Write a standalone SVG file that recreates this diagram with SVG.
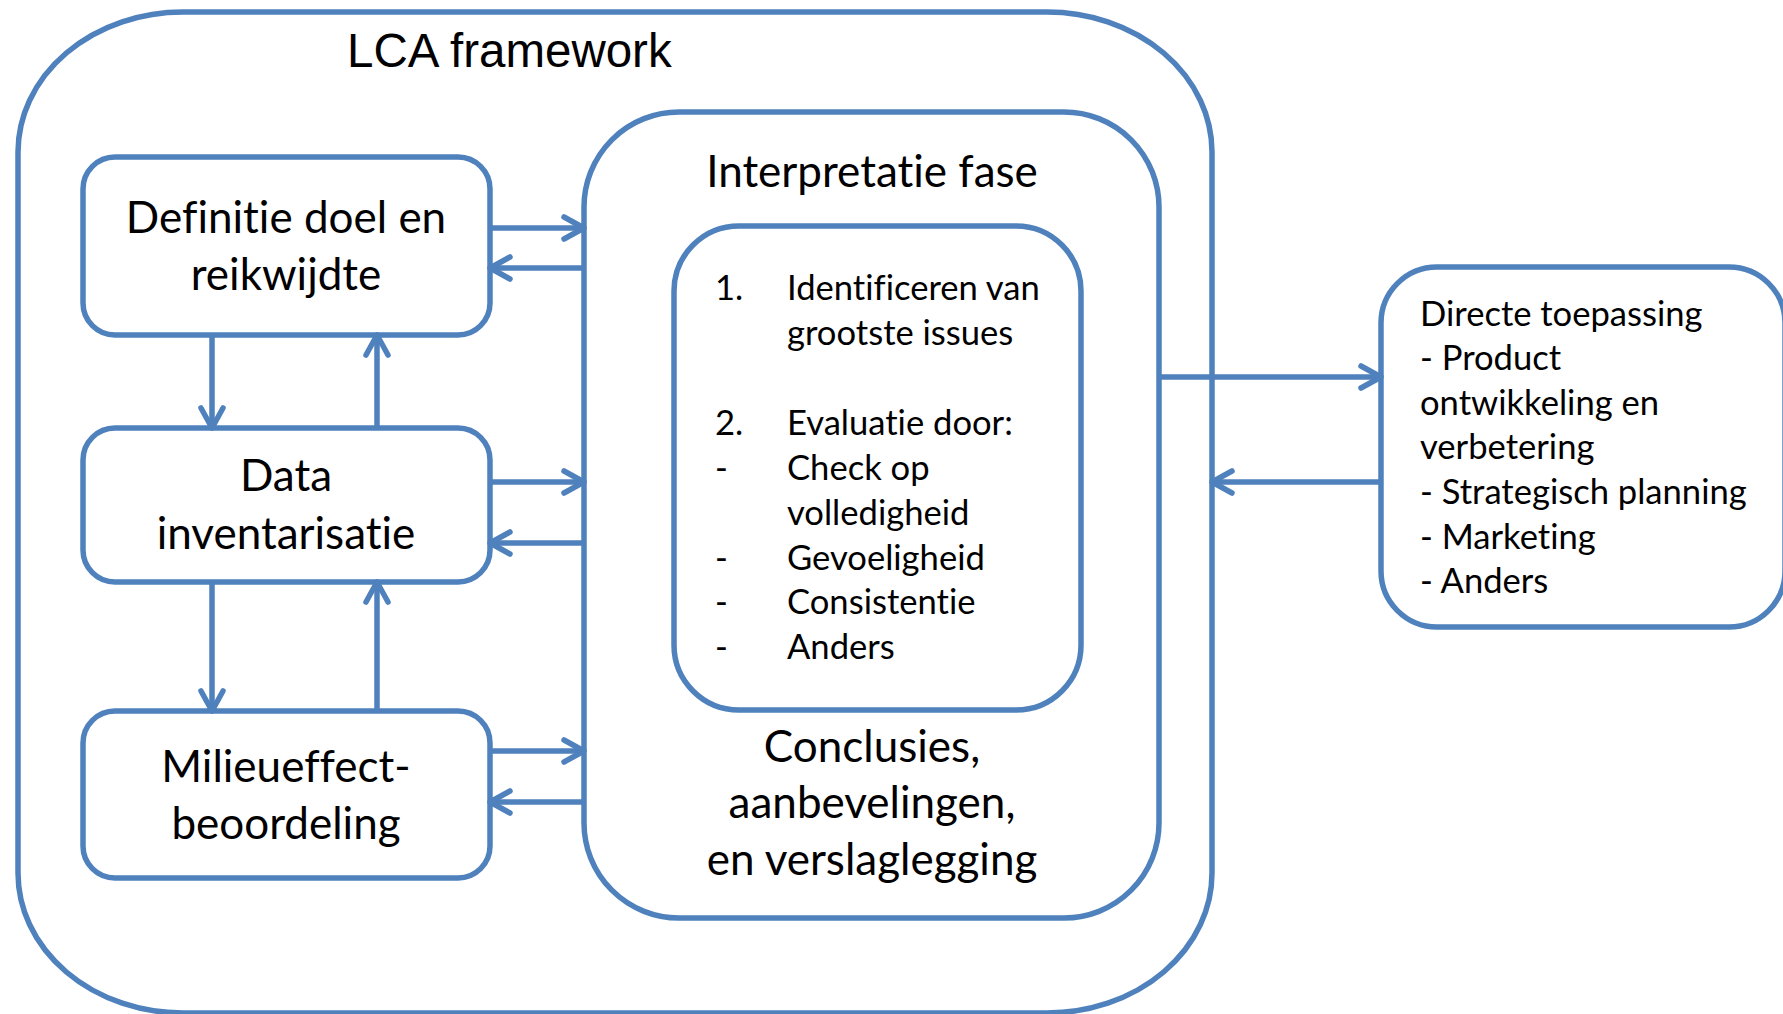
<svg xmlns="http://www.w3.org/2000/svg" width="1783" height="1014" viewBox="0 0 1783 1014">
<defs>
<style>
.box{fill:#fff;stroke:#4F81BD;stroke-width:5.5}
.frame{fill:none;stroke:#4F81BD;stroke-width:5.5}
.con{fill:none;stroke:#4F81BD;stroke-width:5.5}
.big{font-family:Lato,"Liberation Sans",sans-serif;font-size:44px;fill:#000;text-anchor:middle;font-variant-ligatures:none;font-feature-settings:"liga" 0,"dlig" 0,"clig" 0}
.small{font-family:Lato,"Liberation Sans",sans-serif;font-size:34.6px;fill:#000;font-variant-ligatures:none;font-feature-settings:"liga" 0,"dlig" 0,"clig" 0}
.title{font-family:"Liberation Sans",Arial,sans-serif;font-size:47.5px;fill:#000}
</style>
<marker id="ah" markerUnits="userSpaceOnUse" markerWidth="30" markerHeight="30" viewBox="-24 -15 30 30" refX="0" refY="0" orient="auto">
<path d="M-20,-11 L0,0 L-20,11" fill="none" stroke="#4F81BD" stroke-width="5.5" stroke-linecap="round" stroke-linejoin="round"/>
</marker>
</defs>
<rect width="1783" height="1014" fill="#fff"/>
<g id="lca-framework">
<rect class="frame" x="18" y="12" width="1194" height="1001" rx="165" ry="140"/>
<text class="title" x="347" y="67">LCA framework</text>
</g>
<g id="interpretatie">
<rect class="box" x="584" y="112" width="575" height="806" rx="95" ry="95"/>
<text class="big" x="872" y="187">Interpretatie fase</text>
<text class="big" x="872" y="762">Conclusies,</text>
<text class="big" x="872" y="818">aanbevelingen,</text>
<text class="big" x="872" y="875">en verslaglegging</text>
</g>
<g id="evaluatie">
<rect class="box" x="674" y="226" width="407" height="484" rx="65" ry="65"/>
<text class="small" x="715" y="300">1.</text>
<text class="small" x="787" y="300">Identificeren van</text>
<text class="small" x="787" y="345">grootste issues</text>
<text class="small" x="715" y="435">2.</text>
<text class="small" x="787" y="435">Evaluatie door:</text>
<text class="small" x="715" y="480">-</text>
<text class="small" x="787" y="480">Check op</text>
<text class="small" x="787" y="525">volledigheid</text>
<text class="small" x="715" y="570">-</text>
<text class="small" x="787" y="570">Gevoeligheid</text>
<text class="small" x="715" y="614">-</text>
<text class="small" x="787" y="614">Consistentie</text>
<text class="small" x="715" y="659">-</text>
<text class="small" x="787" y="659">Anders</text>
</g>
<g id="definitie">
<rect class="box" x="83" y="157" width="407" height="178" rx="32" ry="32"/>
<text class="big" x="286" y="233">Definitie doel en</text>
<text class="big" x="286" y="290">reikwijdte</text>
</g>
<g id="data">
<rect class="box" x="83" y="428" width="407" height="154" rx="32" ry="32"/>
<text class="big" x="286" y="491">Data</text>
<text class="big" x="286" y="549">inventarisatie</text>
</g>
<g id="milieu">
<rect class="box" x="83" y="711" width="407" height="167" rx="32" ry="32"/>
<text class="big" x="286" y="782">Milieueffect-</text>
<text class="big" x="286" y="839">beoordeling</text>
</g>
<g id="toepassing">
<rect class="box" x="1381" y="267" width="404" height="360" rx="56" ry="56"/>
<text class="small" x="1420" y="326">Directe toepassing</text>
<text class="small" x="1420" y="370">- Product</text>
<text class="small" x="1420" y="415">ontwikkeling en</text>
<text class="small" x="1420" y="459">verbetering</text>
<text class="small" x="1420" y="504">- Strategisch planning</text>
<text class="small" x="1420" y="549">- Marketing</text>
<text class="small" x="1420" y="593">- Anders</text>
</g>
<g id="connectors">
<line class="con" x1="490" y1="228" x2="584" y2="228" marker-end="url(#ah)"/>
<line class="con" x1="584" y1="268" x2="490" y2="268" marker-end="url(#ah)"/>
<line class="con" x1="490" y1="482" x2="584" y2="482" marker-end="url(#ah)"/>
<line class="con" x1="584" y1="543" x2="490" y2="543" marker-end="url(#ah)"/>
<line class="con" x1="490" y1="751" x2="584" y2="751" marker-end="url(#ah)"/>
<line class="con" x1="584" y1="802" x2="490" y2="802" marker-end="url(#ah)"/>
<line class="con" x1="212" y1="335" x2="212" y2="428" marker-end="url(#ah)"/>
<line class="con" x1="377" y1="428" x2="377" y2="335" marker-end="url(#ah)"/>
<line class="con" x1="212" y1="582" x2="212" y2="711" marker-end="url(#ah)"/>
<line class="con" x1="377" y1="711" x2="377" y2="582" marker-end="url(#ah)"/>
<line class="con" x1="1159" y1="377" x2="1381" y2="377" marker-end="url(#ah)"/>
<line class="con" x1="1381" y1="482" x2="1212" y2="482" marker-end="url(#ah)"/>
</g>
</svg>
